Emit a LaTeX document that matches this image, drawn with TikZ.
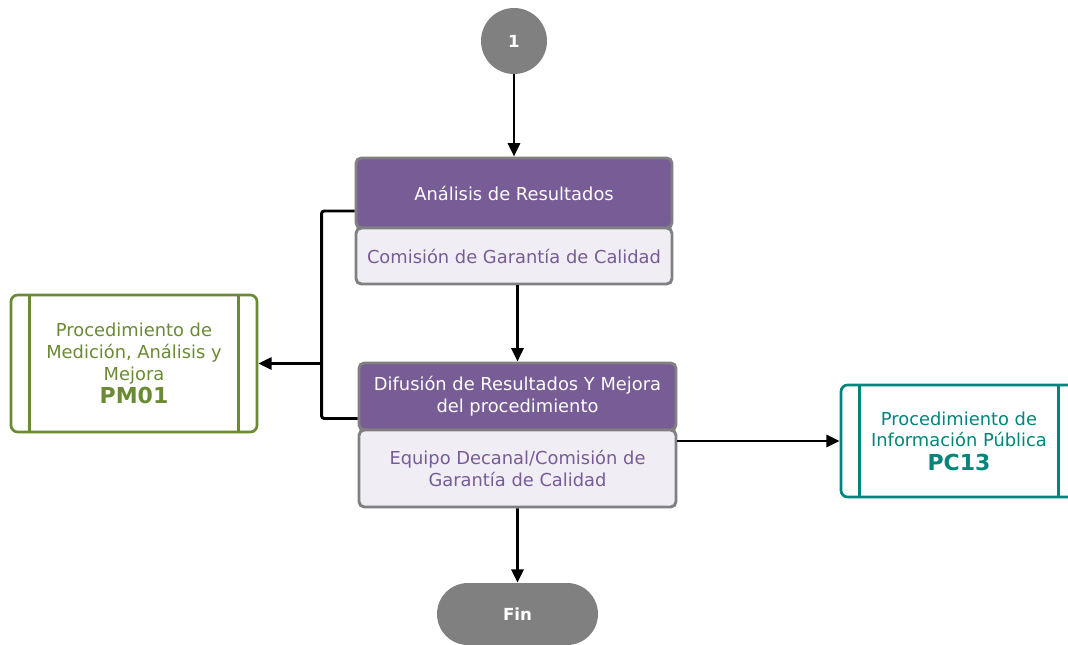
\documentclass[tikz,border=0pt]{standalone}
\usepackage{fontspec}
\setmainfont{DejaVu Sans}
\usetikzlibrary{arrows.meta}
\usetikzlibrary{calc}
\usetikzlibrary{shapes.misc}
\usetikzlibrary{positioning}
\definecolor{morado}{RGB}{119,92,150}
\definecolor{lila}{RGB}{240,238,244}
\definecolor{gris}{RGB}{128,128,128}
\definecolor{verde}{RGB}{106,138,52}
\definecolor{turquesa}{RGB}{0,133,122}

\begin{document}
\begin{tikzpicture}[x=0.75pt,y=0.75pt,yscale=-1,xscale=1,
  caja/.style={draw=gris,line width=2.2pt,rounded corners=4pt,minimum width=237pt,align=center,inner sep=0pt,font=\fontsize{13.4}{16.4}\selectfont},
  cajaTit/.style={caja,fill=morado,text=white},
  cajaResp/.style={caja,fill=lila,text=morado},
  proc/.style={line width=2pt,rounded corners=5pt,fill=white,align=center,inner sep=0pt,font=\fontsize{13.4}{16.4}\selectfont},
  terminal/.style={fill=gris,text=white,inner sep=0pt,font=\bfseries\fontsize{12.5}{14}\selectfont},
  flecha/.style={line width=2.2pt,-{Triangle[length=10pt,width=9pt]}},
  linea/.style={line width=2.2pt,rounded corners=2pt}]
\useasboundingbox (0,0) rectangle (1068,645);

%Shape: Circle
\node [terminal,circle,minimum size=49.5pt] (uno) at (514,41) {1};
%Shape: Rectangle
\node [cajaTit,minimum height=52.5pt] (analisis) at (514,193) {Análisis de Resultados};
\node [cajaResp,minimum height=42pt] (comision) at (514,256) {Comisión de Garantía de Calidad};
%Shape: Rectangle
\node [cajaTit,minimum width=237.75pt,minimum height=50.25pt] (difusion) at (517.5,396.5) {Difusión de Resultados Y Mejora\\del procedimiento};
\node [cajaResp,minimum width=237.75pt,minimum height=57.75pt] (equipo) at (517.5,468.5) {Equipo Decanal/Comisión de\\Garantía de Calidad};
%Shape: Rounded Rectangle
\node [terminal,rounded rectangle,minimum width=120.75pt,minimum height=46.5pt] (fin) at (517.5,614) {Fin};

%Shape: Process
\node [proc,draw=verde,text=verde,minimum width=184.5pt,minimum height=102.75pt] (pm) at (134,363.5) {Procedimiento de\\Medición, Análisis y\\Mejora\\[1pt]{\bfseries\fontsize{16.5}{18}\selectfont PM01}};
\draw [verde,line width=2pt] ($(pm.north west)+(20,0)$) -- ($(pm.south west)+(20,0)$);
\draw [verde,line width=2pt] ($(pm.north east)+(-20,0)$) -- ($(pm.south east)+(-20,0)$);
%Shape: Process
\node [proc,draw=turquesa,text=turquesa,minimum width=177pt,minimum height=84pt] (pc) at (959,441) {Procedimiento de\\Información Pública\\[1pt]{\bfseries\fontsize{16.5}{18}\selectfont PC13}};
\draw [turquesa,line width=2pt] ($(pc.north west)+(20,0)$) -- ($(pc.south west)+(20,0)$);
\draw [turquesa,line width=2pt] ($(pc.north east)+(-20,0)$) -- ($(pc.south east)+(-20,0)$);

%Straight Lines
\draw [flecha] (uno) -- (analisis);
\draw [flecha] (comision.south -| difusion.north) -- (difusion);
\draw [flecha] (equipo) -- (fin);
\draw [linea] ($(analisis.west)+(0,18)$) -- ++(-33,0) coordinate (codo) |- ($(difusion.west)+(0,22)$);
\draw [flecha] (codo |- pm.east) -- (pm.east);
\draw [flecha] (pc.west -| equipo.east) -- (pc.west);

\end{tikzpicture}
\end{document}
